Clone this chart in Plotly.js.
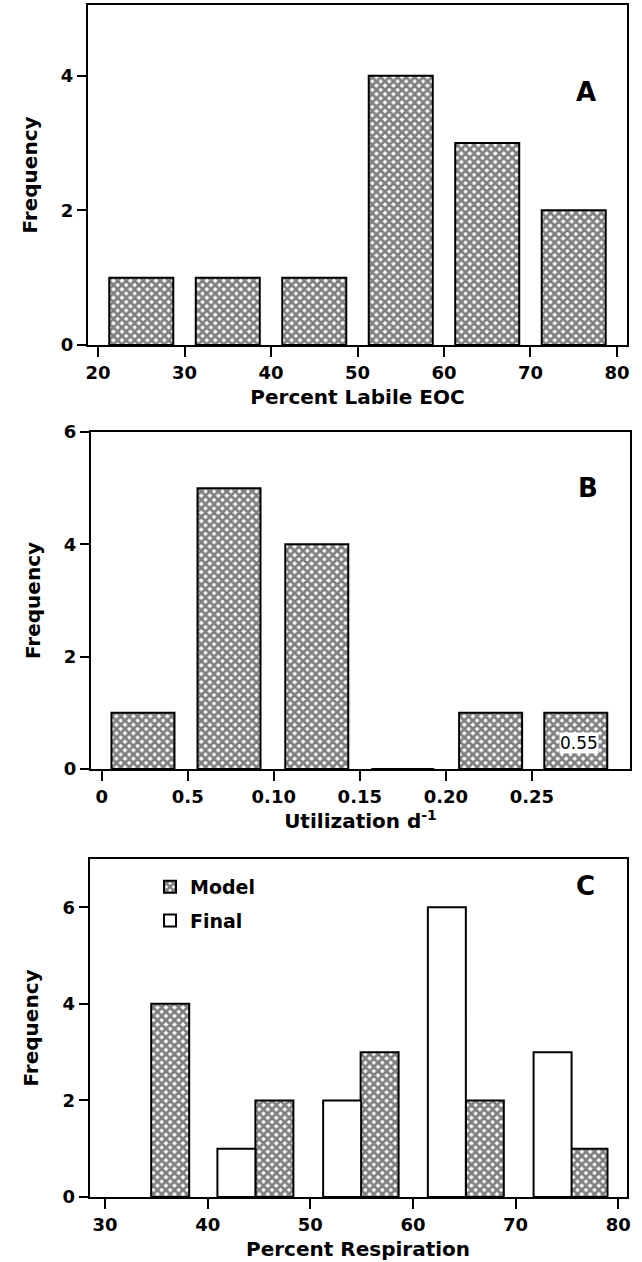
<!DOCTYPE html>
<html>
<head>
<meta charset="utf-8">
<script src="https://cdn.plot.ly/plotly-3.0.1.min.js"></script>
<style>html,body{margin:0;padding:0;background:#fff;}#chart{width:642px;height:1262px;}</style>
</head>
<body>
<div id="chart"></div>
<script>
// Panel A: Percent Labile EOC
const aCenters = [25, 35, 45, 55, 65, 75];
const aCounts = [1, 1, 1, 4, 3, 2];
// Panel B: Utilization d-1
const bCenters = [0.024, 0.074, 0.125, 0.175, 0.226, 0.2755];
const bCounts = [1, 5, 4, 0, 1, 1];
const bTickVals = [0, 0.05, 0.10, 0.15, 0.20, 0.25];
const bTickText = ["0", "0.5", "0.10", "0.15", "0.20", "0.25"];
// Panel C: Percent Respiration
const cModelCenters = [36.35, 46.5, 56.75, 67.0, 77.1];
const cModelCounts = [4, 2, 3, 2, 1];
const cFinalCenters = [42.8, 53.1, 63.3, 73.6];
const cFinalCounts = [1, 2, 6, 3];

const FAMILY = "DejaVu Sans, Arial, sans-serif";
const TICKFONT = {family: FAMILY, size: 18, color: "#000", weight: "bold"};
const TITLEFONT = {family: FAMILY, size: 20, color: "#000", weight: "bold"};
const hatch = {shape: "x", fgcolor: "#000", bgcolor: "#fff", size: 6, solidity: 0.72, fillmode: "overlay"};
const outline = {color: "#000", width: 2};

function hatchBar(x, y, w, xa, ya, name, show) {
  return {type: "bar", x: x, y: y, width: w, xaxis: xa, yaxis: ya, name: name, showlegend: show,
    legendgroup: name, marker: {color: "#fff", pattern: hatch, line: outline}};
}

const traces = [
  hatchBar(aCenters, aCounts, 7.4, "x", "y", "A", false),
  hatchBar(bCenters, bCounts, 0.0366, "x2", "y2", "B", false),
  hatchBar(cModelCenters, cModelCounts, 3.7, "x3", "y3", "Model", true),
  {type: "bar", x: cFinalCenters, y: cFinalCounts, width: 3.7, xaxis: "x3", yaxis: "y3", name: "Final", showlegend: true,
    legendgroup: "Final", marker: {color: "#fff", line: outline}}
];

function xax(domain, range, title, extra) {
  return Object.assign({domain: domain, range: range, showline: true, mirror: true,
    linecolor: "#000", linewidth: 2, ticks: "outside", ticklen: 10, tickwidth: 2, tickcolor: "#000",
    showgrid: false, zeroline: false, tickfont: TICKFONT, automargin: false,
    title: {text: title, font: TITLEFONT, standoff: 8}}, extra);
}
function yax(domain, range, tickvals, extra) {
  return Object.assign({domain: domain, range: range, showline: true, mirror: true,
    linecolor: "#000", linewidth: 2, ticks: "outside", ticklen: 9, tickwidth: 2, tickcolor: "#000",
    showgrid: false, zeroline: false, tickfont: TICKFONT, tickvals: tickvals, automargin: false,
    title: {text: "Frequency", font: TITLEFONT, standoff: 18}}, extra);
}

const letterFont = {family: FAMILY, size: 26, weight: "bold", color: "#000"};

const layout = {
  width: 642, height: 1262,
  margin: {l: 0, r: 0, t: 0, b: 0},
  paper_bgcolor: "#fff", plot_bgcolor: "#fff",
  barmode: "overlay",
  font: TICKFONT,
  xaxis: xax([88/642, 627/642], [18.84, 81.16], "Percent Labile EOC", {anchor: "y", tickvals: [20,30,40,50,60,70,80]}),
  yaxis: yax([1-345/1262, 1-5/1262], [0, 5.05], [0, 2, 4], {anchor: "x"}),
  xaxis2: xax([91/642, 630/642], [-0.0062, 0.307], "Utilization d<sup>-1</sup>", {anchor: "y2", tickvals: bTickVals, ticktext: bTickText}),
  yaxis2: yax([1-769/1262, 1-432/1262], [0, 6], [0, 2, 4, 6], {anchor: "x2"}),
  xaxis3: xax([89.6/642, 626.5/642], [28.5, 80.8], "Percent Respiration", {anchor: "y3", tickvals: [30,40,50,60,70,80]}),
  yaxis3: yax([1-1197/1262, 1-859/1262], [0, 7], [0, 2, 4, 6], {anchor: "x3"}),
  showlegend: true,
  legend: {x: 150/642, y: 1-868/1262, xanchor: "left", yanchor: "top", bgcolor: "rgba(0,0,0,0)",
    font: {family: FAMILY, size: 19, color: "#000", weight: "bold"}, traceorder: "grouped", tracegroupgap: 6, itemwidth: 30},
  annotations: [
    {text: "A", xref: "paper", yref: "paper", x: 598/642, y: 1-75/1262, showarrow: false, font: letterFont},
    {text: "B", xref: "paper", yref: "paper", x: 600/642, y: 1-488/1262, showarrow: false, font: letterFont},
    {text: "C", xref: "paper", yref: "paper", x: 597/642, y: 1-903/1262, showarrow: false, font: letterFont},
    {text: "0.55", xref: "x2", yref: "y2", x: 0.2773, y: 0.47, showarrow: false, bgcolor: "#fff", borderpad: 0,
      font: {family: FAMILY, size: 17, color: "#000", weight: "normal"}}
  ]
};

Plotly.newPlot("chart", traces, layout, {staticPlot: true, displayModeBar: false});
</script>
</body>
</html>
